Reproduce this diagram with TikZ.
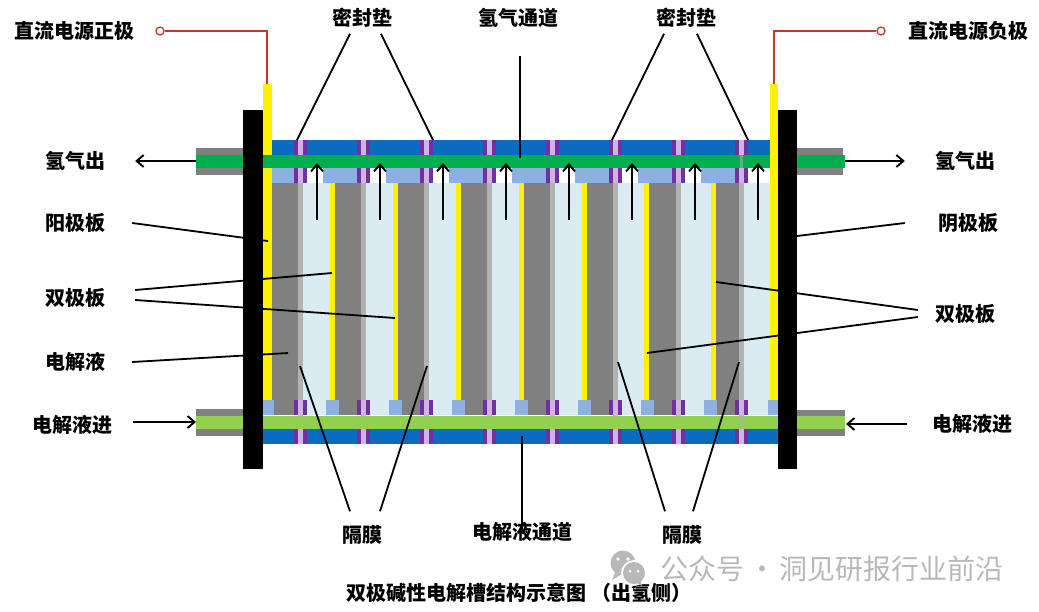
\documentclass[tikz,border=0pt]{standalone}
\usepackage{fontspec}
\setmainfont{Noto Sans CJK SC}
\usepackage{xcolor}
\usetikzlibrary{arrows.meta,positioning}
\definecolor{sealblue}{HTML}{0B6CBF}
\definecolor{gasgreen}{HTML}{00AE4E}
\definecolor{liquidgreen}{HTML}{92D050}
\definecolor{gasket}{HTML}{7030A0}
\definecolor{lilac}{HTML}{CFB4E2}
\definecolor{anode}{HTML}{808080}
\definecolor{membrane}{HTML}{B2B2B2}
\definecolor{pale}{HTML}{DBEBF2}
\definecolor{lightblock}{HTML}{8DB0E2}
\definecolor{wire}{HTML}{C0392B}
\definecolor{wmgray}{HTML}{B8B8B8}

\begin{document}
\begin{tikzpicture}[
  x=1pt,y=-1pt,
  lbl/.style={font=\bfseries\fontsize{20}{22}\selectfont,text=black,inner sep=0pt},
  lead/.style={line width=1.8pt,draw=black},
  arr/.style={-{Straight Barb[length=7pt,width=12pt]},line width=1.9pt,draw=black},
  redline/.style={line width=1.5pt,draw=wire},
  term/.style={circle,draw=wire,line width=1.3pt,fill=white,minimum size=8pt,inner sep=0pt}
]
\useasboundingbox (0,0) rectangle (1039,611);
% pipes
\fill[anode] (196,148) rectangle (243,175);
\fill[anode] (797,148) rectangle (843,175);
\fill[anode] (196,409) rectangle (243,436);
\fill[anode] (797,410) rectangle (845,436);
% cells
\fill[pale] (272,183) rectangle (770,415);
\fill[anode] (272,183) rectangle (298,415);
\foreach \x/\xx in {330/361,393/424,456/487,519/550,582/613,644/676,711/739} {
  \fill[anode] ({\x+5},183) rectangle (\xx,415);
  \fill[yellow] (\x,183) rectangle ({\x+5},400);
}
\fill[lightblock] (272,168) rectangle (294,183);
\foreach \k in {0,...,6}
  \fill[lightblock] ({323+63*\k},168) rectangle ({357+63*\k},183);
\fill[lightblock] (263,400) rectangle (274,415);
\foreach \k in {0,...,6}
  \fill[lightblock] ({326+63*\k},400) rectangle ({339+63*\k},415);
\fill[lightblock] (768,400) rectangle (778,415);
% headers
\fill[sealblue] (272,140) rectangle (770,155);
\fill[sealblue] (263,429) rectangle (778,444);
% gaskets and membranes
\foreach \k in {0,...,7} {
  \fill[membrane] ({298+63*\k},183) rectangle ({303+63*\k},400);
  \fill[lilac] ({298+63*\k},140) rectangle ({303+63*\k},183);
  \fill[lilac] ({298+63*\k},400) rectangle ({303+63*\k},444);
  \foreach \y/\yy in {140/155,168/183,400/415,429/444} {
    \fill[gasket] ({294+63*\k},\y) rectangle ({298+63*\k},\yy);
    \fill[gasket] ({303+63*\k},\y) rectangle ({307+63*\k},\yy);
  }
}
% electrodes and channels
\fill[yellow] (263,84) rectangle (272,400);
\fill[yellow] (770,84) rectangle (778,400);
\fill[gasgreen] (196,155) rectangle (243,168);
\fill[gasgreen] (263,155) rectangle (770,168);
\fill[gasgreen] (797,155) rectangle (845,168);
\fill[liquidgreen] (196,416) rectangle (243,429);
\fill[liquidgreen] (263,416) rectangle (778,429);
\fill[liquidgreen] (797,416) rectangle (845,429);
\fill[membrane,opacity=.5] (740,155) rectangle (743,168);
\fill[membrane,opacity=.5] (740,416) rectangle (743,429);
\fill[black] (243,110) rectangle (263,469);
\fill[black] (778,110) rectangle (797,469);
% up arrows
\foreach \k in {0,...,7} {
  \coordinate (ua\k) at ({317+63*\k},220);
  \coordinate (ub\k) at ({317+63*\k},163);
  \draw[arr] (ua\k) -- (ub\k);
}
% labels
\node[lbl] (posT)  at (74,31)   {直流电源正极};
\node[lbl] (negT)  at (968,31)  {直流电源负极};
\node[lbl] (sealL) at (362,18)  {密封垫};
\node[lbl] (h2ch)  at (518,18)  {氢气通道};
\node[lbl] (sealR) at (686,18)  {密封垫};
\node[lbl] (h2L)   at (75,161)  {氢气出};
\node[lbl] (h2R)   at (965,161) {氢气出};
\node[lbl] (anodeL)  at (75,223)  {阳极板};
\node[lbl] (cathR)   at (968,223) {阴极板};
\node[lbl] (biL)   at (75,298)  {双极板};
\node[lbl] (biR)   at (965,314) {双极板};
\node[lbl] (elyte) at (75,362)  {电解液};
\node[lbl] (inL)   at (72,425)  {电解液进};
\node[lbl] (inR)   at (972,424) {电解液进};
\node[lbl] (memL)  at (362,535) {隔膜};
\node[lbl] (liqch) at (522,532) {电解液通道};
\node[lbl] (memR)  at (682,535) {隔膜};
\node[lbl] (title) at (519,593) {双极碱性电解槽结构示意图 （出氢侧）};
\node[font=\fontsize{28}{30}\selectfont,text=wmgray,inner sep=0pt] (wm) at (832,569) {公众号\hspace{3.5pt}·\hspace{3.5pt}洞见研报行业前沿};
% watermark icon
\fill[wmgray] (623,563) circle (12.5);
\fill[wmgray] (612,580) -- (616,570) -- (622,574) -- cycle;
\fill[white] (634,573) circle (13);
\fill[wmgray] (634,573) circle (11);
\fill[wmgray] (642,586) -- (640,578) -- (635,582) -- cycle;
\fill[white] (618,559) circle (1.8) (628,559) circle (1.8) (630,571) circle (1.5) (638,571) circle (1.5);
% terminals and wires
\node[term] (tp) at (160,31) {};
\node[term] (tn) at (881,31) {};
\coordinate (wp) at (267,84);
\coordinate (wn) at (774,84);
\draw[redline] (tp) -- (267,31) -- (wp);
\draw[redline] (tn) -- (774,31) -- (wn);
% leaders
\coordinate (s1) at (297,140); \coordinate (s2) at (433,140);
\coordinate (s3) at (612,140); \coordinate (s4) at (748,140);
\coordinate (hc) at (520,158); \coordinate (lc) at (522,436);
\coordinate (pa) at (268,241); \coordinate (pc) at (797,236);
\coordinate (b1) at (332,273); \coordinate (b2) at (395,318);
\coordinate (b3) at (716,282); \coordinate (b4) at (647,353);
\coordinate (el) at (288,353);
\coordinate (m1) at (300,366); \coordinate (m2) at (427,366);
\coordinate (m3) at (618,362); \coordinate (m4) at (739,362);
\draw[lead] ([shift={(-12,6)}]sealL.south) -- (s1);
\draw[lead] ([shift={(19,6)}]sealL.south) -- (s2);
\draw[lead] ([shift={(-22,6)}]sealR.south) -- (s3);
\draw[lead] ([shift={(11,6)}]sealR.south) -- (s4);
\draw[lead] ([shift={(2,28)}]h2ch.south) -- (hc);
\draw[lead] ([xshift=27pt]anodeL.east) -- (pa);
\draw[lead] ([xshift=-33pt]cathR.west) -- (pc);
\draw[lead] ([shift={(30,-8)}]biL.east) -- (b1);
\draw[lead] ([shift={(30,2)}]biL.east) -- (b2);
\draw[lead] ([shift={(-17,-4)}]biR.west) -- (b3);
\draw[lead] ([shift={(-17,3)}]biR.west) -- (b4);
\draw[lead] ([xshift=27pt]elyte.east) -- (el);
\draw[lead] ([shift={(-12,-14)}]memL.north) -- (m1);
\draw[lead] ([shift={(18,-14)}]memL.north) -- (m2);
\draw[lead] ([shift={(-17,-14)}]memR.north) -- (m3);
\draw[lead] ([shift={(11,-14)}]memR.north) -- (m4);
\draw[lead] ([yshift=-9pt]liqch.north) -- (lc);
% flow arrows
\coordinate (pL) at (196,161); \coordinate (pR) at (845,161);
\coordinate (qL) at (196,422); \coordinate (qR) at (846,424);
\draw[arr] (pL) -- ([xshift=30pt]h2L.east);
\draw[arr] (pR) -- ([xshift=-30pt]h2R.west);
\draw[arr] ([xshift=21pt]inL.east |- qL) -- (qL);
\draw[arr] ([xshift=-25pt]inR.west) -- (qR);
\end{tikzpicture}
\end{document}
